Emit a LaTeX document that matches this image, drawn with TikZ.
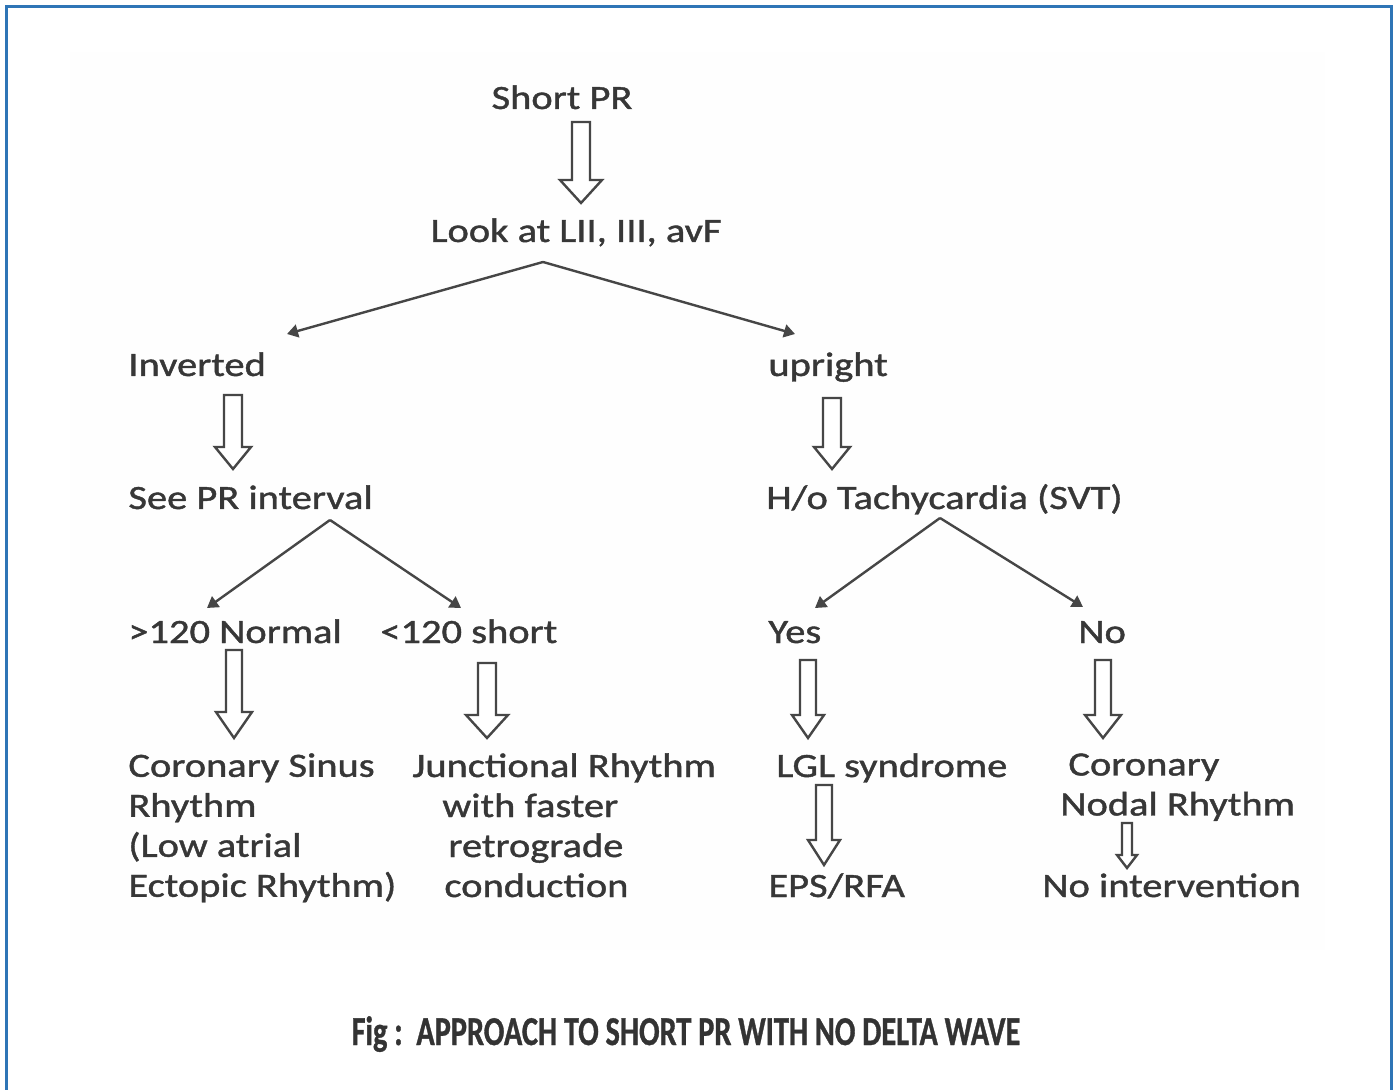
\documentclass[tikz,border=0pt]{standalone}
\usepackage{fontspec}
\setmainfont{Carlito}
\newfontfamily\diafont[FakeStretch=1.19,FakeBold=1.2]{Carlito}
\newfontfamily\capfont[FakeStretch=0.74,FakeBold=0.8]{Carlito}
\usetikzlibrary{arrows.meta}
\definecolor{frameblue}{RGB}{46,117,182}
\definecolor{txt}{RGB}{55,55,55}
\definecolor{ln}{RGB}{70,70,70}
\definecolor{capcol}{RGB}{51,51,51}
\definecolor{paper}{RGB}{254,254,254}
% hollow block arrow: cx, top, head start, tip, half shaft, half head
\newcommand{\hollowarrow}[6]{%
  \draw[hollow] ({#1-#5},#2) -- ({#1+#5},#2) -- ({#1+#5},#3) -- ({#1+#6},#3)
    -- (#1,#4) -- ({#1-#6},#3) -- ({#1-#5},#3) -- cycle;}
\tikzset{
  lbl/.style={font=\diafont\fontsize{17}{20}\selectfont, text=txt, inner sep=0pt, align=left},
  hollow/.style={draw=ln, line width=1.2pt, line join=miter, fill=white},
  branch/.style={draw=ln, line width=1.2pt, -{Triangle[width=6.5pt,length=5.5pt]}},
}
\begin{document}
\begin{tikzpicture}[x=0.5pt,y=-0.5pt]
\useasboundingbox (0,0) rectangle (1397,1090);
\fill[white] (0,0) rectangle (1397,1090);
\fill[paper] (70,52) rectangle (1325,950);
\draw[frameblue, line width=1.5pt] (6,1092) -- (6,7) -- (1391,7) -- (1391,1092);

% texts
\node[lbl,anchor=base] (short) at (562,109) {Short PR};
\node[lbl,anchor=base] (look) at (576,242) {Look at LII, III, avF};
\node[lbl,anchor=base west] (inv) at (128,376) {Inverted};
\node[lbl,anchor=base west] (up) at (768,376) {upright};
\node[lbl,anchor=base west] (see) at (128,509) {See PR interval};
\node[lbl,anchor=base west] (hot) at (766,509) {H/o Tachycardia (SVT)};
\node[lbl,anchor=base west] (gt) at (128,643) {>120 Normal};
\node[lbl,anchor=base west] (lt) at (380,643) {<120 short};
\node[lbl,anchor=base west] (yes) at (768,643) {Yes};
\node[lbl,anchor=base west] (no) at (1078,643) {No};
\node[lbl,anchor=north west] (cs) at (128,753) {Coronary Sinus\\Rhythm\\(Low atrial\\Ectopic Rhythm)};
\node[lbl,anchor=north west] (jr) at (412,753) {Junctional Rhythm\\\hspace*{15pt}with faster\\\hspace*{18pt}retrograde\\\hspace*{16pt}conduction};
\node[lbl,anchor=base west] (lgl) at (776,777) {LGL syndrome};
\node[lbl,anchor=base west] (eps) at (768,897) {EPS/RFA};
\node[lbl,anchor=north west] (cn) at (1060,753) {\hspace*{4pt}Coronary\\Nodal Rhythm};
\node[lbl,anchor=base west] (noi) at (1042,897) {No intervention};

\node[font=\capfont\bfseries\fontsize{20.5}{24}\selectfont, text=capcol, inner sep=0pt, anchor=base] (cap) at (686,1045) {Fig :\ \ APPROACH TO SHORT PR WITH NO DELTA WAVE};

% branching connectors
\coordinate (a1) at (543,262);
\coordinate (t1) at (287,334);
\coordinate (t2) at (795,334);
\coordinate (a2) at (330,520);
\coordinate (t3) at (207,608);
\coordinate (t4) at (461,608);
\coordinate (a3) at (940,518);
\coordinate (t5) at (815,608);
\coordinate (t6) at (1083,607);
\draw[branch] (a1) -- (t1);
\draw[branch] (a1) -- (t2);
\draw[branch] (a2) -- (t3);
\draw[branch] (a2) -- (t4);
\draw[branch] (a3) -- (t5);
\draw[branch] (a3) -- (t6);

% hollow arrows
\hollowarrow{581}{122}{180}{203}{9}{21}
\hollowarrow{233}{395}{447}{469}{9}{18}
\hollowarrow{832}{398}{447}{469}{9}{18}
\hollowarrow{234}{650}{712}{738}{8}{18}
\hollowarrow{487}{663}{715}{738}{9}{21}
\hollowarrow{808}{660}{715}{738}{8}{16}
\hollowarrow{1103}{660}{715}{738}{8}{18}
\hollowarrow{824}{785}{840}{865}{8}{16}
\hollowarrow{1127}{823}{855}{868}{5}{10}
\end{tikzpicture}
\end{document}
